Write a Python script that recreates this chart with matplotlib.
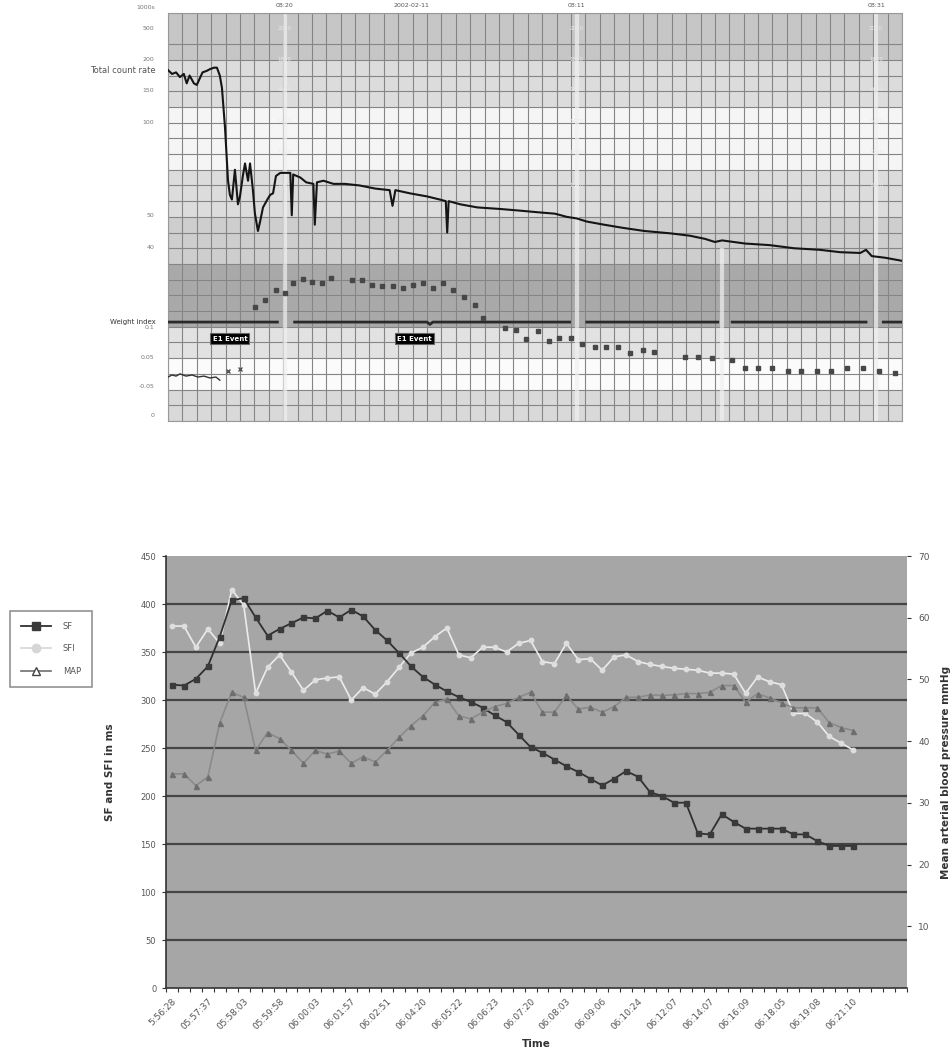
import numpy as np
import matplotlib
matplotlib.use('Agg')
import matplotlib.pyplot as plt
from matplotlib.ticker import MultipleLocator
from matplotlib.lines import Line2D

# ================= TOP PANEL DATA (x in grid columns, y in grid levels) =================
count_t = [0, 0.28, 0.56, 0.83, 1.1, 1.3, 1.5, 1.8, 2.0, 2.2, 2.4, 2.7, 2.9, 3.2, 3.4, 3.6,
           3.75, 3.96, 4.17, 4.3, 4.44, 4.65, 4.86, 5.0, 5.2, 5.35, 5.56, 5.7, 5.9, 6.04,
           6.25, 6.4, 6.6, 6.9, 7.1, 7.3, 7.5, 7.8, 8.3, 8.5, 8.6, 8.7, 9.2, 9.6, 10.1,
           10.2, 10.35, 10.8, 11.5, 12.3, 13.3, 14.4, 15.4, 15.6, 15.8, 16.8, 18.0, 18.9,
           19.3, 19.4, 19.5, 20.3, 21.5, 23.1, 24.4, 25.6, 26.9, 27.7, 28.4, 29.1, 30.3,
           31.6, 33.1, 34.9, 36.25, 37.3, 38.0, 38.5, 40.1, 41.8, 43.5, 45.3, 46.7, 48.1,
           48.5, 48.9, 49.8, 51.0]
count_v = [22.35, 22.1, 22.2, 21.9, 22.1, 21.5, 22.0, 21.5, 21.4, 21.8, 22.2, 22.3, 22.4,
           22.5, 22.5, 22.0, 21.2, 18.7, 15.3, 14.4, 14.1, 16.0, 13.8, 14.3, 15.6, 16.4,
           15.3, 16.4, 14.7, 13.2, 12.1, 12.7, 13.6, 14.1, 14.4, 14.5, 15.6, 15.8, 15.8,
           15.8, 13.1, 15.7, 15.5, 15.2, 15.1, 12.5, 15.2, 15.3, 15.1, 15.1, 15.0, 14.8,
           14.7, 13.7, 14.7, 14.5, 14.3, 14.1, 14.0, 12.0, 14.0, 13.8, 13.6, 13.5, 13.4,
           13.3, 13.2, 13.0, 12.9, 12.7, 12.5, 12.3, 12.1, 11.95, 11.8, 11.6, 11.4, 11.5,
           11.3, 11.2, 11.0, 10.9, 10.75, 10.7, 10.9, 10.5, 10.4, 10.2]

weight_t = [0, 7.6, np.nan, 8.8, 18.0, 18.2, 18.4, 27.9, np.nan, 29.1, 38.2, np.nan,
            39.2, 48.5, np.nan, 49.7, 51.0]
weight_v = [6.3, 6.3, np.nan, 6.3, 6.3, 6.15, 6.3, 6.3, np.nan, 6.3, 6.3, np.nan,
            6.3, 6.3, np.nan, 6.3, 6.3]

index_t = [6.04, 6.74, 7.5, 8.1, 8.7, 9.4, 10.0, 10.7, 11.3, 12.8, 13.5, 14.2, 14.9, 15.6,
           16.3, 17.0, 17.7, 18.4, 19.1, 19.8, 20.6, 21.3, 21.9, 23.4, 24.2, 24.9, 25.7,
           26.5, 27.2, 28.0, 28.8, 29.65, 30.4, 31.25, 32.1, 33.0, 33.8, 35.9, 36.8, 37.8,
           39.2, 40.1, 41.0, 42.0, 43.1, 44.0, 45.1, 46.1, 47.2, 48.3, 49.4, 50.5]
index_v = [7.26, 7.7, 8.34, 8.15, 8.8, 9.04, 8.85, 8.8, 9.1, 8.97, 8.97, 8.66, 8.6, 8.6,
           8.5, 8.66, 8.8, 8.5, 8.8, 8.34, 7.9, 7.4, 6.55, 5.9, 5.8, 5.2, 5.7, 5.1, 5.3,
           5.3, 4.9, 4.7, 4.7, 4.7, 4.3, 4.5, 4.4, 4.07, 4.07, 4.0, 3.88, 3.4, 3.4, 3.4,
           3.2, 3.2, 3.2, 3.2, 3.4, 3.4, 3.2, 3.05]

small_t = [0, 0.28, 0.56, 0.83, 1.25, 1.67, 2.08, 2.5, 2.92, 3.33, 3.6]
small_v = [2.8, 2.93, 2.86, 3.0, 2.86, 2.93, 2.8, 2.86, 2.74, 2.8, 2.6]
small_mark_t = [4.2, 5.0]
small_mark_v = [3.18, 3.3]

event_t = [4.3, 17.1]
event_v = [5.25, 5.25]
event_labels = ['E1 Event', 'E1 Event']

top_left_levels = [25.0, 23.05, 21.07, 19.05, 13.1, 11.08, 5.98, 4.07, 2.22, 0.38]
top_left_labels = ['500', '200', '150', '100', '50', '40', '0.1', '0.05', '-0.05', '0']
top_time_cols = [8.1, 16.9, 28.4, 49.2]
top_time_labels = ['08:20', '2002-02-11', '08:11', '08:31']
stripe_cols = [8.1, 28.4, 49.2]
faint_levels = [25.0, 23.0, 21.1, 19.1, 17.1, 15.0]
faint_labels = ['2000', '1800', '1600', '1400', '1200', '1000']

# bands: (lower level, upper level, colour)
band_lo = [23, 20, 16, 13, 10, 6, 4, 2, 0]
band_hi = [26, 23, 20, 16, 13, 10, 6, 4, 2]
band_col = ['#c6c6c6', '#dcdcdc', '#f5f5f5', '#dcdcdc', '#cecece', '#a9a9a9',
            '#e2e2e2', '#fbfbfb', '#d9d9d9']

# ================= BOTTOM PANEL DATA =================
sf = [316, 315, 322, 335, 366, 404, 406, 386, 367, 374,
      380, 386, 385, 393, 386, 394, 387, 373, 362, 349,
      335, 324, 316, 309, 303, 298, 292, 284, 277, 264,
      251, 245, 238, 231, 225, 218, 211, 218, 226, 220,
      204, 200, 193, 193, 161, 160, 181, 173, 166, 166,
      166, 166, 160, 160, 153, 148, 148, 148]
sfi = [377, 377, 355, 374, 359, 415, 399, 307, 334, 347,
       329, 310, 321, 323, 324, 300, 313, 306, 319, 334,
       349, 355, 366, 375, 347, 344, 355, 355, 350, 359,
       362, 340, 338, 359, 342, 343, 331, 345, 347, 340,
       337, 335, 333, 332, 331, 328, 328, 327, 307, 324,
       319, 316, 286, 286, 277, 262, 255, 248]
mapv = [34.7, 34.7, 32.8, 34.2, 43.0, 47.9, 47.1, 38.5, 41.4, 40.4,
        38.5, 36.4, 38.5, 37.9, 38.4, 36.4, 37.5, 36.6, 38.5, 40.6,
        42.5, 44.1, 46.3, 46.8, 44.1, 43.6, 44.7, 45.6, 46.1, 47.1,
        47.9, 44.7, 44.7, 47.4, 45.2, 45.5, 44.7, 45.6, 47.1, 47.1,
        47.5, 47.4, 47.5, 47.7, 47.7, 47.9, 49.0, 49.0, 46.3, 47.7,
        47.0, 46.2, 45.4, 45.4, 45.4, 43.0, 42.2, 41.7]
n_categories = 62
time_labels = ['5:56:28', '05:57:37', '05:58:03', '05:59:58', '06:00:03', '06:01:57',
               '06:02:51', '06:04:20', '06:05:22', '06:06:23', '06:07:20', '06:08:03',
               '06:09:06', '06:10:24', '06:12:07', '06:14:07', '06:16:09', '06:18:05',
               '06:19:08', '06:21:10']
left_ticks = [0, 50, 100, 150, 200, 250, 300, 350, 400, 450]
right_ticks = [10, 20, 30, 40, 50, 60, 70]
series_names = ['SF', 'SFI', 'MAP']

W, H = 952, 1060
fig = plt.figure(figsize=(W / 100, H / 100), dpi=100)
fig.patch.set_facecolor('white')

# ---------------- top panel ----------------
axt = fig.add_axes([168 / W, 1 - 421 / H, 734 / W, (421 - 12.7) / H])
axt.set_xlim(0, 51)
axt.set_ylim(0, 26)
for lo, hi, c in zip(band_lo, band_hi, band_col):
    axt.axhspan(lo, hi, color=c, zorder=0, lw=0)
axt.xaxis.set_minor_locator(MultipleLocator(1))
axt.yaxis.set_minor_locator(MultipleLocator(1))
axt.grid(which='minor', color='#858585', lw=0.8, zorder=1)
axt.set_axisbelow(True)
for c in stripe_cols:
    axt.axvline(c, color='#f0f0f0', lw=3, alpha=0.7, zorder=2)
axt.plot([38.5, 38.5], [0, 10.9], color='#f0f0f0', lw=3, alpha=0.7, zorder=2)
for c in stripe_cols:
    for lv, lb in zip(faint_levels, faint_labels):
        axt.text(c, lv, lb, fontsize=4, color='#e8e8e8', ha='center', va='center', zorder=2)

axt.plot(weight_t, weight_v, color='#2a2a2a', lw=2.0, zorder=4)
axt.plot(count_t, count_v, color='#151515', lw=1.5, zorder=5)
axt.plot(index_t, index_v, ls='none', marker='s', ms=2.6, color='#474747', zorder=5)
axt.plot(small_t, small_v, color='#333333', lw=1.0, zorder=5)
axt.plot(small_mark_t, small_mark_v, ls='none', marker='x', ms=3, color='#555555', zorder=5)
for t, v, lb in zip(event_t, event_v, event_labels):
    axt.text(t, v, lb, fontsize=5, color='white', fontweight='bold', ha='center',
             va='center', zorder=6,
             bbox=dict(boxstyle='square,pad=0.3', fc='black', ec='#666666', lw=0.8))

axt.set_xticks([])
axt.set_yticks(top_left_levels)
axt.set_yticklabels(top_left_labels, fontsize=4.5, color='#777777')
axt.tick_params(axis='y', length=0, pad=10)
axt.tick_params(which='minor', length=0)
axt.text(-0.9, 26.3, '1000s', fontsize=4.5, color='#777777', ha='right', va='center',
         clip_on=False)
for c, lb in zip(top_time_cols, top_time_labels):
    axt.text(c, 26.45, lb, fontsize=4.5, color='#555555', ha='center', va='center',
             clip_on=False)
axt.text(-0.85, 22.3, 'Total count rate', fontsize=6, color='#555555', ha='right',
         va='center', clip_on=False)
axt.text(-0.85, 6.3, 'Weight index', fontsize=5, color='#333333', ha='right',
         va='center', clip_on=False)
for s in axt.spines.values():
    s.set_color('#999999')
    s.set_linewidth(0.8)

# ---------------- bottom panel ----------------
ax = fig.add_axes([166 / W, 1 - 988 / H, 741 / W, (988 - 556) / H])
ax.set_facecolor('#a6a6a6')
x = np.arange(len(sf))
ax.set_xlim(-0.5, n_categories - 0.5)
ax.set_ylim(0, 450)
for v in left_ticks[1:-1]:
    ax.axhline(v, color='#454545', lw=1.6, zorder=1)

ax.plot(x, sfi, color='#ececec', lw=1.2, marker='o', ms=3.2, mfc='#dedede',
        mec='#dedede', zorder=3)
ax.plot(x, sf, color='#303030', lw=1.3, marker='s', ms=3.6, mfc='#3a3a3a',
        mec='#3a3a3a', zorder=4)
ax2 = ax.twinx()
ax2.set_ylim(0, 70)
ax2.plot(x, mapv, color='#8a8a8a', lw=1.2, marker='^', ms=3.6, mfc='#6e6e6e',
         mec='#6e6e6e', zorder=3)

ax.set_yticks(left_ticks)
ax.set_yticklabels([str(v) for v in left_ticks], fontsize=6, color='#555555')
ax.tick_params(axis='y', length=3, color='#333333', pad=4)
ax2.set_yticks(right_ticks)
ax2.set_yticklabels([str(v) for v in right_ticks], fontsize=6.5, color='#555555')
ax2.tick_params(axis='y', length=3, color='#333333', pad=5)

ax.set_xticks(np.arange(0, len(sf), 3))
ax.set_xticklabels(time_labels, rotation=45, ha='right', rotation_mode='anchor',
                   fontsize=6.5, color='#555555')
ax.tick_params(axis='x', length=0, pad=6)
ax.set_xticks(np.arange(-0.5, n_categories, 1), minor=True)
ax.tick_params(axis='x', which='minor', length=3, color='#333333', width=0.8)

for a in (ax, ax2):
    a.spines['top'].set_visible(False)
    a.spines['right'].set_visible(False)
ax2.spines['left'].set_visible(False)
ax2.spines['bottom'].set_visible(False)
ax.spines['left'].set_color('#333333')
ax.spines['bottom'].set_color('#333333')
ax.spines['left'].set_linewidth(1.2)
ax.spines['bottom'].set_linewidth(1.2)

ax.set_ylabel('SF and SFI in ms', fontsize=7.5, fontweight='bold', color='#333333',
              labelpad=18)
ax2.set_ylabel('Mean arterial blood pressure mmHg', fontsize=7.5, fontweight='bold',
               color='#333333', rotation=90, labelpad=8)
ax.set_xlabel('Time', fontsize=7.5, fontweight='bold', color='#333333', labelpad=6)

handles = [
    Line2D([], [], color='#303030', lw=1.3, marker='s', ms=6, mfc='#3a3a3a', mec='#3a3a3a'),
    Line2D([], [], color='#d6d6d6', lw=1.2, marker='o', ms=6, mfc='#d6d6d6', mec='#d6d6d6'),
    Line2D([], [], color='#6e6e6e', lw=1.2, marker='^', ms=6, mfc='white', mec='#444444'),
]
leg = fig.legend(handles, series_names, loc='upper left',
                 bbox_to_anchor=(6 / W, 1 - 607 / H), fontsize=6, frameon=True,
                 fancybox=False, edgecolor='#777777', handlelength=3.6,
                 labelspacing=1.6, borderpad=1.3, handletextpad=1.4)
leg.get_frame().set_linewidth(1.2)
for t in leg.get_texts():
    t.set_color('#555555')

fig.savefig('out.png', dpi=100, facecolor='white')
